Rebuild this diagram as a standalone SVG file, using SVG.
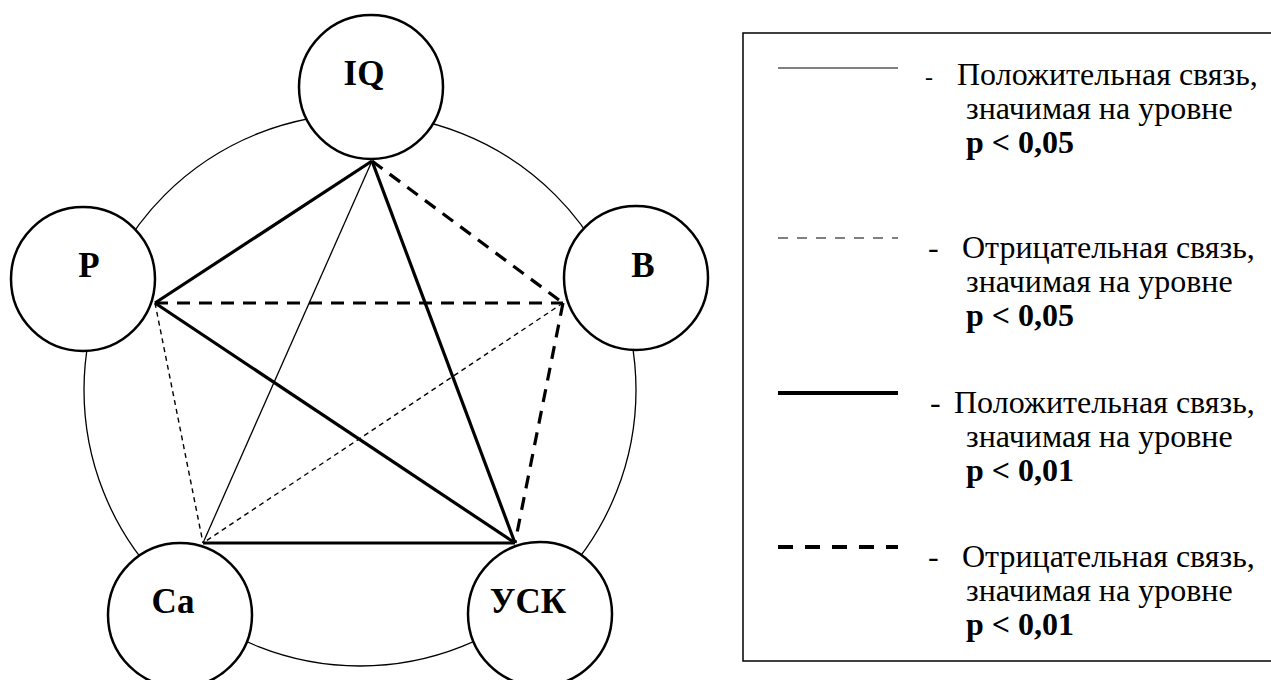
<svg xmlns="http://www.w3.org/2000/svg" width="1271" height="680" viewBox="0 0 1271 680">
<style>
.node{fill:#fff;stroke:#000;stroke-width:2.5}
.lbl{font-family:"Liberation Serif","Times New Roman",serif;font-weight:bold;font-size:35px;fill:#000;text-anchor:middle}
.t{font-family:"Liberation Serif","Times New Roman",serif;font-size:32px;fill:#000}
.tb{font-family:"Liberation Serif","Times New Roman",serif;font-size:32px;font-weight:bold;fill:#000}
.small{font-size:24px}
.thin{stroke:#000;stroke-width:1.3;fill:none}
.thick{stroke:#000;stroke-width:3.2;fill:none}
.thindash{stroke:#000;stroke-width:1.4;stroke-dasharray:5 4;fill:none}
.thickdash{stroke:#000;stroke-width:3.2;stroke-dasharray:13 9;fill:none}
</style>
<rect width="1271" height="680" fill="#fff"/>
<circle id="ring" cx="360" cy="390" r="276" fill="none" stroke="#000" stroke-width="1.3"/>
<g id="node-IQ"><circle class="node" cx="371" cy="87" r="72"/><text class="lbl" x="364" y="85">IQ</text></g>
<g id="node-P"><circle class="node" cx="83" cy="279" r="72"/><text class="lbl" x="89" y="277">P</text></g>
<g id="node-B"><circle class="node" cx="636" cy="278" r="72"/><text class="lbl" x="643" y="277">B</text></g>
<g id="node-Ca"><circle class="node" cx="180" cy="615" r="72"/><text class="lbl" x="173" y="613">Ca</text></g>
<g id="node-USK"><circle class="node" cx="540" cy="614" r="72"/><text class="lbl" x="528" y="613">УСК</text></g>
<g id="connectors">
<line class="thick" x1="372" y1="161" x2="155" y2="303"/>
<line class="thickdash" x1="372" y1="161" x2="563" y2="303"/>
<line class="thin" x1="372" y1="161" x2="203" y2="543"/>
<line class="thick" x1="372" y1="161" x2="515" y2="543"/>
<line class="thickdash" x1="155" y1="303" x2="563" y2="303"/>
<line class="thindash" x1="155" y1="303" x2="203" y2="543"/>
<line class="thick" x1="155" y1="303" x2="515" y2="543"/>
<line class="thindash" x1="563" y1="303" x2="203" y2="543"/>
<line class="thickdash" x1="563" y1="303" x2="515" y2="543"/>
<line class="thick" x1="203" y1="543" x2="515" y2="543"/>
</g>
<g id="legend">
<rect x="743" y="33" width="540" height="628" fill="none" stroke="#000" stroke-width="1.5"/>
<line x1="778" y1="68" x2="898" y2="68" stroke="#808080" stroke-width="2.2"/>
<line x1="778" y1="238" x2="898" y2="238" stroke="#808080" stroke-width="2.2" stroke-dasharray="10 9"/>
<line x1="778" y1="393" x2="898" y2="393" stroke="#000" stroke-width="4"/>
<line x1="778" y1="547" x2="898" y2="547" stroke="#000" stroke-width="4" stroke-dasharray="15 12"/>
<text class="t small" x="925" y="85">-</text>
<text class="t" x="957" y="85">Положительная связь,</text>
<text class="t" x="966" y="119">значимая на уровне</text>
<text class="tb" x="966" y="153">p &lt; 0,05</text>
<text class="t" x="928" y="258">-</text>
<text class="t" x="962" y="258">Отрицательная связь,</text>
<text class="t" x="966" y="292">значимая на уровне</text>
<text class="tb" x="966" y="326">p &lt; 0,05</text>
<text class="t" x="930" y="413">-</text>
<text class="t" x="954" y="413">Положительная связь,</text>
<text class="t" x="966" y="447">значимая на уровне</text>
<text class="tb" x="966" y="481">p &lt; 0,01</text>
<text class="t" x="928" y="567">-</text>
<text class="t" x="962" y="567">Отрицательная связь,</text>
<text class="t" x="966" y="601">значимая на уровне</text>
<text class="tb" x="966" y="635">p &lt; 0,01</text>
</g>
</svg>
